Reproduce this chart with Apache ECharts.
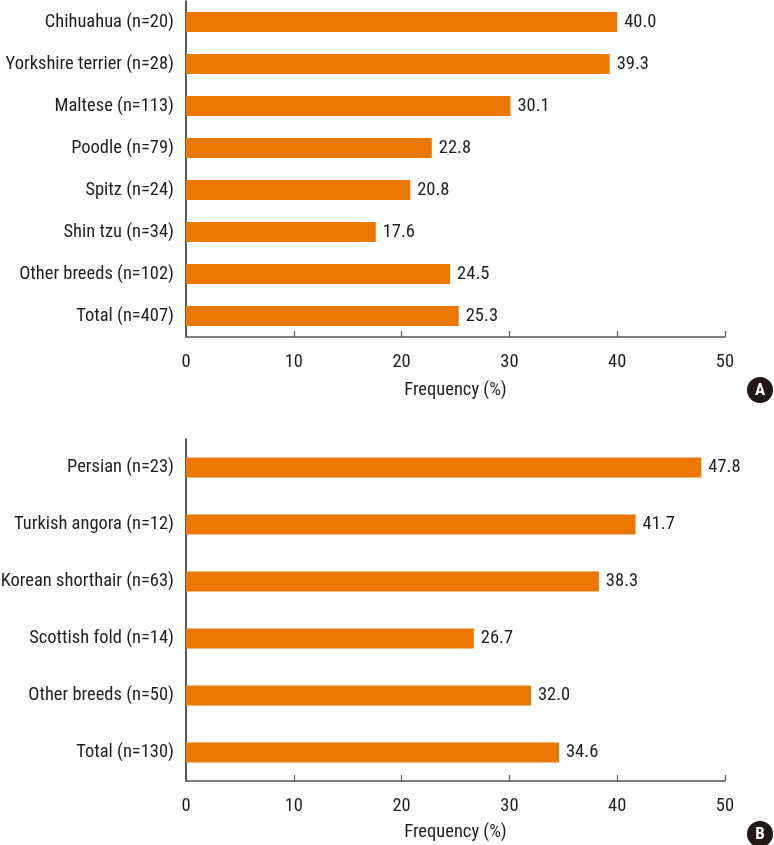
<!DOCTYPE html>
<html>
<head>
<meta charset="utf-8">
<script src="https://cdn.jsdelivr.net/npm/echarts@6/dist/echarts.min.js"></script>
<style>
html,body{margin:0;padding:0;background:#fff;}
#chart{width:774px;height:845px;}
</style>
</head>
<body>
<div id="chart"></div>
<script>
// panel A - dogs
var dogBreeds = ['Chihuahua (n=20)', 'Yorkshire terrier (n=28)', 'Maltese (n=113)', 'Poodle (n=79)',
    'Spitz (n=24)', 'Shin tzu (n=34)', 'Other breeds (n=102)', 'Total (n=407)'];
var dogFreq = [40.0, 39.3, 30.1, 22.8, 20.8, 17.6, 24.5, 25.3];
// panel B - cats
var catBreeds = ['Persian (n=23)', 'Turkish angora (n=12)', 'Korean shorthair (n=63)',
    'Scottish fold (n=14)', 'Other breeds (n=50)', 'Total (n=130)'];
var catFreq = [47.8, 41.7, 38.3, 26.7, 32.0, 34.6];
var freqMin = 0, freqMax = 50, freqStep = 10;
var axisTitle = 'Frequency (%)';

var font = "'Roboto Condensed', Roboto, sans-serif";
var fs = 18.5;
var txt = '#231f20';
var orange = '#ed7703';

function xAx(idx, gap){
    return {
        gridIndex: idx, type: 'value', min: freqMin, max: freqMax, interval: freqStep,
        name: axisTitle, nameLocation: 'middle', nameGap: gap,
        nameTextStyle: {color: txt, fontSize: fs, fontFamily: font},
        axisLine: {show: true, lineStyle: {color: '#555', width: 1.5}},
        axisTick: {show: true, inside: true, length: 6, lineStyle: {color: '#555', width: 1.2}},
        axisLabel: {color: txt, fontSize: fs, fontFamily: font, margin: 16},
        splitLine: {show: false}
    };
}
function yAx(idx, cats){
    return {
        gridIndex: idx, type: 'category', data: cats, inverse: true,
        axisLine: {show: true, lineStyle: {color: '#222', width: 1.5}},
        axisTick: {show: false},
        axisLabel: {color: txt, fontSize: fs, fontFamily: font, margin: 12}
    };
}
function barSeries(idx, vals){
    return {
        type: 'bar', xAxisIndex: idx, yAxisIndex: idx, data: vals, barWidth: 20,
        itemStyle: {color: orange},
        label: {
            show: true, position: 'right', distance: 7, color: txt, fontSize: fs, fontFamily: font,
            formatter: function(p){ return p.value.toFixed(1); }
        }
    };
}

var chart = echarts.init(document.getElementById('chart'));
chart.setOption({
    animation: false,
    grid: [
        {left: 186, width: 539, top: 1, height: 336, containLabel: false, outerBoundsMode: 'none'},
        {left: 186, width: 539, top: 439, height: 342, containLabel: false, outerBoundsMode: 'none'}
    ],
    xAxis: [xAx(0, 44), xAx(1, 42)],
    yAxis: [yAx(0, dogBreeds), yAx(1, catBreeds)],
    series: [barSeries(0, dogFreq), barSeries(1, catFreq)],
    graphic: [
        {type: 'circle', shape: {cx: 760, cy: 390, r: 13}, style: {fill: '#231815'}},
        {type: 'text', x: 760, y: 391, style: {text: 'A', fill: '#fff', align: 'center', verticalAlign: 'middle', font: 'bold 17px ' + font}},
        {type: 'circle', shape: {cx: 760, cy: 834, r: 13}, style: {fill: '#231815'}},
        {type: 'text', x: 760, y: 835, style: {text: 'B', fill: '#fff', align: 'center', verticalAlign: 'middle', font: 'bold 17px ' + font}}
    ]
});
</script>
</body>
</html>
